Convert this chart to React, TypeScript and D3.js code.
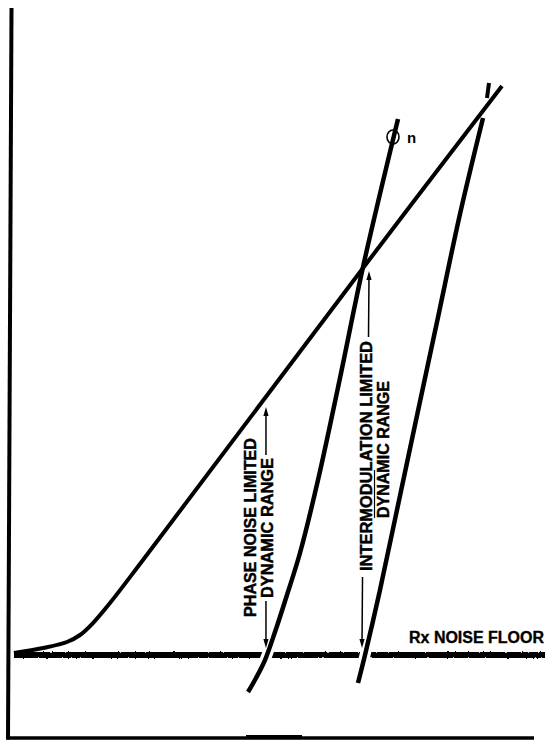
import React from 'react';
import * as d3 from 'd3';

const W = 545;
const H = 742;

// Levels in arbitrary units: x = input signal level, y = output level
const fundamentalX = [0.76, 6.3, 10.88, 13.36, 15.84, 19.08, 25.38, 67.37, 93.89];
const fundamentalY = [11.64, 12.33, 13.15, 14.11, 15.75, 18.49, 24.38, 64.38, 89.32];
const phaseNoiseX = [45.42, 46.95, 48.66, 50.57, 52.86, 55.34, 58.78, 62.98, 67.37, 74.05];
const phaseNoiseY = [6.3, 8.22, 10.68, 14.52, 19.59, 25.34, 35.34, 49.32, 64.52, 84.79];
const imX = [66.41, 67.75, 70.61, 73.85, 77.29, 81.49, 85.88, 90.27];
const imY = [7.53, 11.37, 20.27, 31.23, 42.88, 56.99, 71.78, 84.93];
const imExtX = [91.03, 91.41];
const imExtY = [87.67, 89.73];
const noiseFloorX = [0.76, 102.1];
const noiseFloorLevel = 11.37;

// Annotation anchors (data units)
const phaseArrowX = 48.85;
const phaseArrowTop = 45.34;
const phaseArrowBottom = 12.33;
const imArrowTopX = 68.51;
const imArrowTopY = 63.97;
const imArrowBottomX = 67.18;
const imArrowBottomY = 12.33;
const phiMarker = [73.09, 82.33];

const zip = (xs: number[], ys: number[]): [number, number][] => xs.map((v, i) => [v, ys[i]]);

export default function App() {
  const x = d3.scaleLinear().domain([0, 100]).range([10, 534]);
  const y = d3.scaleLinear().domain([0, 100]).range([738, 8]);
  const line = d3
    .line<[number, number]>()
    .x((d) => x(d[0]))
    .y((d) => y(d[1]))
    .curve(d3.curveCatmullRom.alpha(0.5));

  const fund = line(zip(fundamentalX, fundamentalY)) || '';
  const pn = line(zip(phaseNoiseX, phaseNoiseY)) || '';
  const im = line(zip(imX, imY)) || '';
  const imExt = line(zip(imExtX, imExtY)) || '';
  const nfY = y(noiseFloorLevel);

  const font = "'Liberation Sans', Arial, Helvetica, sans-serif";

  const upHead = (px: number, py: number) => `M${px},${py} L${px - 2.6},${py + 9} L${px + 2.6},${py + 9} Z`;
  const downHead = (px: number, py: number) => `M${px},${py} L${px - 2.6},${py - 9} L${px + 2.6},${py - 9} Z`;

  const vText = (cx: number, cy: number, len: number, s: string, size = 16.5) => (
    <text
      transform={`translate(${cx + size * 0.36},${cy}) rotate(-90)`}
      textAnchor="middle"
      fontFamily={font}
      fontWeight="bold"
      fontSize={size}
      textLength={len}
      lengthAdjust="spacingAndGlyphs"
      fill="#000"
      stroke="#000"
      strokeWidth={0.45}
    >
      {s}
    </text>
  );

  const pax = x(phaseArrowX);
  const pTop = y(phaseArrowTop);
  const pBot = y(phaseArrowBottom);
  const iTx = x(imArrowTopX);
  const iTy = y(imArrowTopY);
  const iBx = x(imArrowBottomX);
  const iBy = y(imArrowBottomY);

  return (
    <svg
      width={W}
      height={H}
      viewBox={`0 0 ${W} ${H}`}
      style={{ position: 'absolute', left: 0, top: 0, background: '#fff' }}
    >
      <defs>
        <filter id="rough" filterUnits="userSpaceOnUse" x={0} y={nfY - 15} width={W} height={30}>
          <feTurbulence type="fractalNoise" baseFrequency="0.4" numOctaves="2" seed="3" />
          <feDisplacementMap in="SourceGraphic" scale="2.5" />
        </filter>
        <clipPath id="band">
          <rect x={0} y={nfY - 12} width={W} height={24} />
        </clipPath>
      </defs>
      <rect x={0} y={0} width={W} height={H} fill="#fff" />

      {/* axes */}
      <line x1={x(0) + 1.5} y1={y(100)} x2={x(0) - 2} y2={y(0) + 1.5} stroke="#000" strokeWidth={4} />
      <line x1={x(0) - 3.5} y1={y(0)} x2={x(100)} y2={y(0)} stroke="#000" strokeWidth={3.5} />
      <line x1={x(45.04)} y1={y(0) - 1.5} x2={x(55.73)} y2={y(0) - 1.5} stroke="#000" strokeWidth={3} />

      {/* noise floor */}
      <line x1={x(noiseFloorX[0])} y1={nfY} x2={x(noiseFloorX[1])} y2={nfY} stroke="#000" strokeWidth={4.5} />
      <line
        x1={x(noiseFloorX[0])}
        y1={nfY}
        x2={x(noiseFloorX[1])}
        y2={nfY}
        stroke="#000"
        strokeWidth={6}
        filter="url(#rough)"
      />
      <g clipPath="url(#band)">
        <path d={pn} fill="none" stroke="#fff" strokeWidth={11} />
        <path d={im} fill="none" stroke="#fff" strokeWidth={11} />
      </g>

      {/* curves */}
      <path d={fund} fill="none" stroke="#000" strokeWidth={4} />
      <path d={pn} fill="none" stroke="#000" strokeWidth={4.5} />
      <path d={im} fill="none" stroke="#000" strokeWidth={4.5} />
      <path d={imExt} fill="none" stroke="#000" strokeWidth={4} />

      {/* phi n marker */}
      <ellipse cx={x(phiMarker[0])} cy={y(phiMarker[1])} rx={6} ry={7} fill="none" stroke="#000" strokeWidth={1.6} />
      <text x={x(phiMarker[0]) + 14} y={y(phiMarker[1]) + 6} fontFamily={font} fontWeight="bold" fontSize={15}>
        n
      </text>

      {/* phase noise arrow */}
      <line x1={pax} y1={pTop + 6} x2={pax} y2={455} stroke="#000" strokeWidth={1.5} />
      <line x1={pax} y1={601} x2={pax} y2={pBot - 6} stroke="#000" strokeWidth={1.5} />
      <path d={upHead(pax, pTop)} fill="#000" />
      <path d={downHead(pax, pBot)} fill="#000" />
      {vText(250, 527.5, 179, 'PHASE NOISE LIMITED')}
      {vText(267, 528, 140, 'DYNAMIC RANGE')}

      {/* intermodulation arrow */}
      <line x1={iTx} y1={iTy + 6} x2={iTx - 0.5} y2={337} stroke="#000" strokeWidth={1.5} />
      <line x1={iBx + 0.5} y1={577} x2={iBx} y2={iBy - 6} stroke="#000" strokeWidth={1.5} />
      <path d={upHead(iTx, iTy)} fill="#000" />
      <path d={downHead(iBx, iBy)} fill="#000" />
      {vText(366, 456, 230, 'INTERMODULATION LIMITED')}
      {vText(383, 449.5, 137, 'DYNAMIC RANGE')}
      <line x1={374.5} y1={470} x2={374.5} y2={518} stroke="#000" strokeWidth={1.2} />

      {/* noise floor label */}
      <text
        x={409}
        y={643}
        fontFamily={font}
        fontWeight="bold"
        fontSize={16}
        textLength={135}
        lengthAdjust="spacingAndGlyphs"
        stroke="#000"
        strokeWidth={0.35}
      >
        Rx NOISE FLOOR
      </text>
    </svg>
  );
}
